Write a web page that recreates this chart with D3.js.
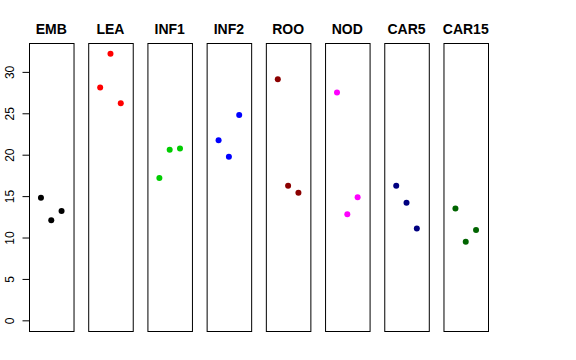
<!DOCTYPE html>
<html><head><meta charset="utf-8">
<script src="https://cdn.jsdelivr.net/npm/d3@7"></script>
<style>body{margin:0;background:#fff}svg{display:block}</style>
</head><body>
<script>
const categories = ["EMB","LEA","INF1","INF2","ROO","NOD","CAR5","CAR15"];
const colors = ["#000000","#FF0000","#00CD00","#0000FF","#8B0000","#FF00FF","#000080","#006400"];
const rep1 = [14.8, 28.1, 17.2, 21.75, 29.1, 27.5, 16.25, 13.5];
const rep2 = [12.1, 32.2, 20.6, 19.75, 16.25, 12.8, 14.2, 9.5];
const rep3 = [13.2, 26.2, 20.75, 24.8, 15.4, 14.85, 11.1, 10.9];
const yTicks = [0, 5, 10, 15, 20, 25, 30];

const W = 576, H = 360;
const svg = d3.select("body").append("svg").attr("width", W).attr("height", H);

const yMax = 32.2;
const y = d3.scaleLinear().domain([-0.04*yMax, 1.04*yMax]).range([331, 43]);
const band = d3.scaleBand().domain(categories).range([29, 488]).paddingInner(0.248).paddingOuter(0);
const x = d3.scaleLinear().domain([-0.16, 4.16]).range([0, band.bandwidth()]);

categories.forEach((c, i) => {
  const g = svg.append("g").attr("transform", `translate(${band(c)},0)`);
  g.append("rect")
    .attr("x", 0.5).attr("y", y.range()[1] + 0.5)
    .attr("width", band.bandwidth()).attr("height", y.range()[0] - y.range()[1])
    .attr("fill", "none").attr("stroke", "#000").attr("stroke-width", 1);
  const vals = [rep1[i], rep2[i], rep3[i]];
  g.selectAll("circle").data(vals).enter().append("circle")
    .attr("cx", (d, j) => x(j + 1)).attr("cy", d => y(d))
    .attr("r", 3).attr("fill", colors[i]);
  g.append("text")
    .attr("x", band.bandwidth()/2).attr("y", 34)
    .attr("text-anchor", "middle")
    .attr("font-family", "Liberation Sans, Arial, sans-serif")
    .attr("font-weight", "bold").attr("font-size", 14)
    .text(c);
});

const axis = d3.axisLeft(y).tickValues(yTicks).tickSize(7).tickPadding(3).tickSizeOuter(0);
const ag = svg.append("g").attr("transform", "translate(29.5,0)").call(axis);
ag.select(".domain").attr("d", `M0,${y(0)}V${y(30)}`);
ag.selectAll("text")
  .attr("font-family", "Liberation Sans, Arial, sans-serif")
  .attr("font-size", 12).attr("fill", "#000")
  .attr("transform", "translate(-16,0) rotate(-90)")
  .attr("x", 0).attr("y", 0).attr("dy", "0")
  .attr("text-anchor", "middle");
</script>
</body></html>
